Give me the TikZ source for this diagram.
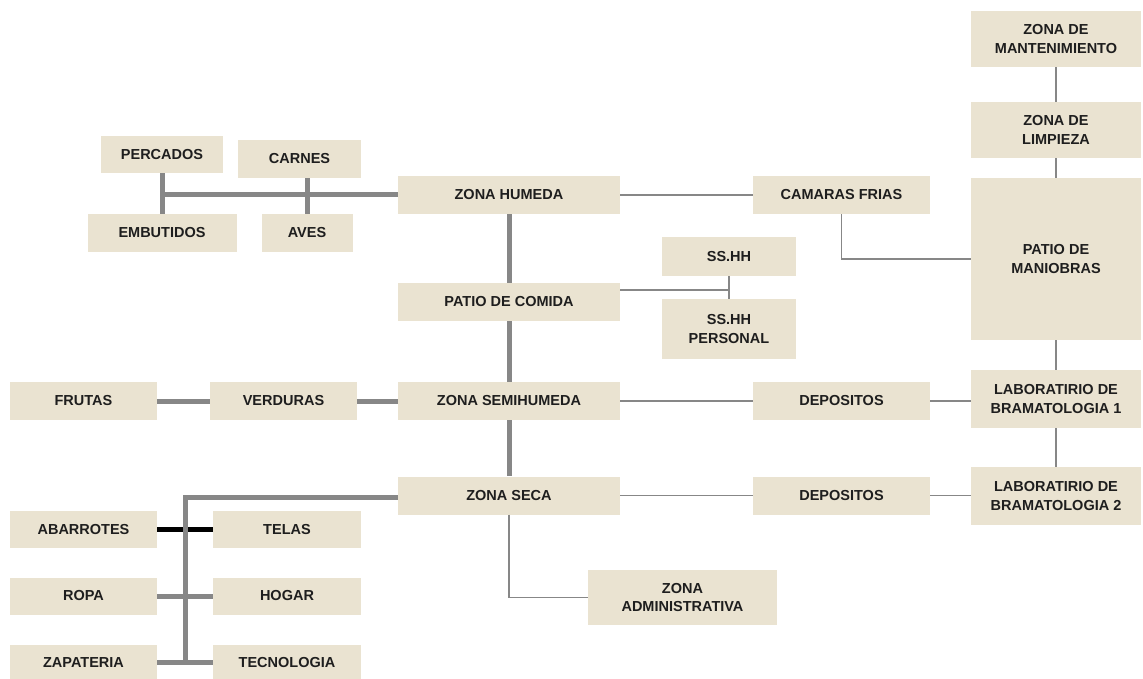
\documentclass[tikz,border=0pt]{standalone}
\usepackage{fontspec}
\setmainfont{Liberation Sans}
\usepackage{tikz}

\definecolor{crema}{RGB}{234,227,209}
\definecolor{gris}{RGB}{135,135,135}
\definecolor{tinta}{RGB}{30,30,30}

\begin{document}
\begin{tikzpicture}[x=1pt,y=-1pt,
		zona/.style={fill=crema,inner sep=0pt,align=center,text=tinta,
			font=\fontsize{14.5}{18.5}\selectfont\bfseries},
		grueso/.style={draw=gris,line width=5pt},
		fino/.style={draw=gris,line width=1.8pt}]
			\useasboundingbox (0,0) rectangle (1143,679);
			
			\node[zona,minimum width=122,minimum height=37] (percados) at (162,154.5) {PERCADOS};
			\node[zona,minimum width=123,minimum height=38] (carnes) at (299.5,159) {CARNES};
			\node[zona,minimum width=149,minimum height=38] (embutidos) at (162,233) {EMBUTIDOS};
			\node[zona,minimum width=91,minimum height=38] (aves) at (307,233) {AVES};
			\node[zona,minimum width=222,minimum height=38] (humeda) at (509,195) {ZONA HUMEDA};
			\node[zona,minimum width=222,minimum height=38] (comida) at (509,302) {PATIO DE COMIDA};
			\node[zona,minimum width=222,minimum height=38] (semihumeda) at (509,401) {ZONA SEMIHUMEDA};
			\node[zona,minimum width=222,minimum height=38] (seca) at (509,495.5) {ZONA SECA};
			\node[zona,minimum width=177,minimum height=38] (camaras) at (841.5,195) {CAMARAS FRIAS};
			\node[zona,minimum width=134,minimum height=39] (sshh) at (729,256.5) {SS.HH};
			\node[zona,minimum width=134,minimum height=60] (personal) at (729,329) {SS.HH\\PERSONAL};
			\node[zona,minimum width=177,minimum height=38] (deposito1) at (841.5,401) {DEPOSITOS};
			\node[zona,minimum width=177,minimum height=38] (deposito2) at (841.5,495.5) {DEPOSITOS};
			\node[zona,minimum width=189,minimum height=55] (admin) at (682.5,597.5) {ZONA\\ADMINISTRATIVA};
			\node[zona,minimum width=170,minimum height=56] (mant) at (1056,39) {ZONA DE\\MANTENIMIENTO};
			\node[zona,minimum width=170,minimum height=56] (limpieza) at (1056,130) {ZONA DE\\LIMPIEZA};
			\node[zona,minimum width=170,minimum height=162] (maniobras) at (1056,259) {PATIO DE\\MANIOBRAS};
			\node[zona,minimum width=170,minimum height=58] (lab1) at (1056,399) {LABORATIRIO DE\\BRAMATOLOGIA 1};
			\node[zona,minimum width=170,minimum height=58] (lab2) at (1056,496) {LABORATIRIO DE\\BRAMATOLOGIA 2};
			\node[zona,minimum width=147,minimum height=38] (frutas) at (83.5,401) {FRUTAS};
			\node[zona,minimum width=147,minimum height=38] (verduras) at (283.5,401) {VERDURAS};
			\node[zona,minimum width=147,minimum height=37] (abarrotes) at (83.5,529.5) {ABARROTES};
			\node[zona,minimum width=148,minimum height=37] (telas) at (287,529.5) {TELAS};
			\node[zona,minimum width=147,minimum height=37] (ropa) at (83.5,596) {ROPA};
			\node[zona,minimum width=148,minimum height=37] (hogar) at (287,596) {HOGAR};
			\node[zona,minimum width=147,minimum height=35] (zapateria) at (83.5,662.5) {ZAPATERIA};
			\node[zona,minimum width=148,minimum height=35] (tecnologia) at (287,662.5) {TECNOLOGIA};
			
			\coordinate (bano) at (729,290);
			\coordinate (eje) at (185,662.5);
			
			\path [grueso] (percados) edge (embutidos);
			\path [grueso] (aves.north) edge (aves.north |- carnes.south);
			\path [grueso] (humeda.west) edge (humeda.west -| percados.south);
			\path [grueso] (humeda) edge (comida);
			\path [grueso] (comida) edge (semihumeda);
			\path [grueso] (semihumeda) edge (seca);
			\path [grueso] (frutas) edge (verduras);
			\path [grueso] (verduras) edge (semihumeda);
			\path [draw=black,line width=5pt] (abarrotes) edge (telas);
			\path [grueso] (ropa) edge (hogar);
			\path [grueso] (zapateria) edge (tecnologia);
			\draw [grueso] ([yshift=-2pt]seca.west) -| (eje);
			
			\path [fino] (humeda) edge (camaras);
			\draw [fino] (camaras.south) |- (maniobras.west);
			\path [fino] (mant) edge (limpieza);
			\path [fino] (limpieza) edge (maniobras);
			\path [fino] (maniobras) edge (lab1);
			\path [fino] (lab1) edge (lab2);
			\path [fino] (sshh) edge (personal);
			\draw [fino] (bano -| comida.east) -- (bano);
			\path [fino] (semihumeda) edge (deposito1);
			\path [fino] (deposito1) edge (deposito1 -| lab1.west);
			\path [fino] (seca) edge (deposito2);
			\path [fino] (deposito2) edge (deposito2 -| lab2.west);
			\draw [fino] (seca.south) |- (admin.west);
		\end{tikzpicture}
\end{document}
